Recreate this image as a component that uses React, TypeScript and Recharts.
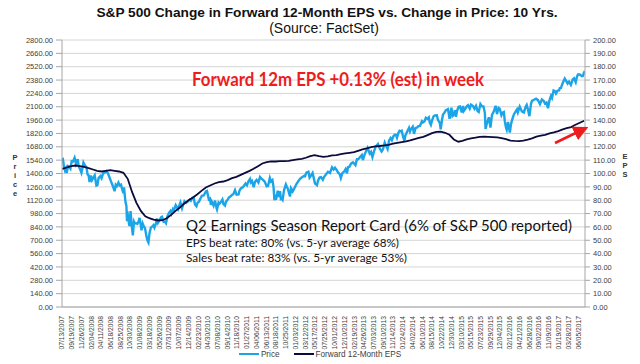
import { LineChart, Line, XAxis, YAxis, CartesianGrid, Legend } from 'recharts';

// x-axis labels as printed on the chart
const tickLabels = [
  '07/13/2007', '09/19/2007', '11/26/2007', '02/04/2008', '04/11/2008', '06/18/2008', '08/25/2008',
  '10/30/2008', '01/08/2009', '03/18/2009', '05/26/2009', '07/31/2009', '10/07/2009', '12/14/2009',
  '02/23/2010', '04/30/2010', '07/08/2010', '09/14/2010', '11/18/2010', '01/27/2011', '04/06/2011',
  '06/13/2011', '08/18/2011', '10/25/2011', '01/03/2012', '03/12/2012', '05/17/2012', '07/25/2012',
  '10/01/2012', '12/10/2012', '02/19/2013', '04/26/2013', '07/03/2013', '09/10/2013', '11/14/2013',
  '01/24/2014', '04/02/2014', '06/10/2014', '08/15/2014', '10/22/2014', '12/30/2014', '03/10/2015',
  '05/15/2015', '07/23/2015', '09/29/2015', '12/04/2015', '02/12/2016', '04/21/2016', '06/28/2016',
  '09/02/2016', '11/09/2016', '01/19/2017', '03/28/2017', '06/05/2017',
];

const leftTicks = [0, 140, 280, 420, 560, 700, 840, 980, 1120, 1260, 1400, 1540, 1680, 1820, 1960, 2100, 2240, 2380, 2520, 2660, 2800];
const rightTicks = [0, 10, 20, 30, 40, 50, 60, 70, 80, 90, 100, 110, 120, 130, 140, 150, 160, 170, 180, 190, 200];

// S&P 500 price, [MM-DD, level] per year
const sp2007: [string, number][] = [
  ['07-13', 1552], ['07-19', 1553], ['07-26', 1482], ['08-03', 1433], ['08-09', 1453], ['08-15', 1406],
  ['08-24', 1479], ['08-31', 1474], ['09-10', 1451], ['09-19', 1529], ['09-28', 1527], ['10-09', 1565],
  ['10-19', 1501], ['10-31', 1549], ['11-07', 1475], ['11-15', 1451], ['11-26', 1407], ['12-04', 1462],
  ['12-10', 1515], ['12-21', 1484], ['12-31', 1468],
];
const sp2008: [string, number][] = [
  ['01-08', 1390], ['01-15', 1380], ['01-22', 1310], ['01-31', 1378], ['02-08', 1331], ['02-15', 1349],
  ['02-27', 1381], ['03-10', 1273], ['03-17', 1277], ['03-25', 1352], ['04-07', 1373], ['04-15', 1351],
  ['04-25', 1397], ['05-05', 1408], ['05-19', 1426], ['05-30', 1400], ['06-09', 1361], ['06-20', 1318],
  ['06-30', 1280], ['07-15', 1214], ['07-23', 1282], ['07-31', 1267], ['08-11', 1305], ['08-20', 1275],
  ['08-29', 1283], ['09-05', 1242], ['09-15', 1193], ['09-19', 1255], ['09-29', 1106], ['10-06', 1057],
  ['10-10', 899], ['10-13', 1003], ['10-17', 940], ['10-27', 848], ['11-04', 1006], ['11-12', 853],
  ['11-20', 752], ['11-28', 896], ['12-05', 876], ['12-12', 879], ['12-22', 871], ['12-31', 903],
];
const sp2009: [string, number][] = [
  ['01-06', 935], ['01-13', 871], ['01-20', 805], ['01-28', 874], ['02-05', 845], ['02-13', 827],
  ['02-23', 743], ['03-02', 700], ['03-09', 677], ['03-17', 778], ['03-26', 832], ['04-03', 842],
  ['04-13', 858], ['04-20', 832], ['04-30', 873], ['05-08', 929], ['05-15', 883], ['05-26', 910],
  ['06-05', 940], ['06-12', 946], ['06-23', 895], ['07-02', 896], ['07-10', 879], ['07-20', 951],
  ['07-31', 987], ['08-10', 1007], ['08-17', 979], ['08-28', 1029], ['09-04', 1016], ['09-16', 1068],
  ['09-25', 1044], ['10-02', 1025], ['10-13', 1073], ['10-19', 1097], ['10-30', 1036], ['11-06', 1069],
  ['11-16', 1109], ['11-27', 1091], ['12-07', 1103], ['12-14', 1114], ['12-24', 1127], ['12-31', 1115],
];
const sp2010: [string, number][] = [
  ['01-11', 1146], ['01-19', 1150], ['01-29', 1074], ['02-08', 1056], ['02-16', 1094], ['02-26', 1104],
  ['03-08', 1138], ['03-18', 1166], ['03-31', 1169], ['04-09', 1194], ['04-15', 1211], ['04-23', 1217],
  ['05-06', 1128], ['05-14', 1136], ['05-20', 1071], ['05-27', 1103], ['06-08', 1062], ['06-18', 1117],
  ['06-30', 1031], ['07-02', 1022], ['07-13', 1095], ['07-20', 1083], ['07-30', 1102], ['08-09', 1127],
  ['08-16', 1080], ['08-27', 1065], ['09-03', 1105], ['09-13', 1121], ['09-24', 1149], ['10-05', 1160],
  ['10-15', 1176], ['10-25', 1185], ['11-05', 1225], ['11-16', 1178], ['11-30', 1180], ['12-07', 1223],
  ['12-16', 1243], ['12-31', 1258],
];
const sp2011: [string, number][] = [
  ['01-07', 1271], ['01-18', 1295], ['01-28', 1276], ['02-07', 1319], ['02-18', 1343], ['02-24', 1306],
  ['03-04', 1321], ['03-16', 1256], ['03-25', 1313], ['04-05', 1332], ['04-18', 1305], ['04-29', 1364],
  ['05-09', 1346], ['05-20', 1333], ['06-01', 1315], ['06-15', 1265], ['06-24', 1268], ['07-07', 1353],
  ['07-15', 1316], ['07-25', 1331], ['08-02', 1254], ['08-08', 1119], ['08-12', 1179], ['08-19', 1124],
  ['08-31', 1219], ['09-09', 1154], ['09-16', 1216], ['09-22', 1130], ['09-30', 1131], ['10-04', 1123],
  ['10-14', 1224], ['10-27', 1285], ['11-03', 1261], ['11-10', 1239], ['11-25', 1159], ['12-02', 1244],
  ['12-14', 1212], ['12-30', 1258],
];
const sp2012: [string, number][] = [
  ['01-10', 1292], ['01-20', 1315], ['02-03', 1345], ['02-17', 1361], ['03-01', 1374], ['03-09', 1371],
  ['03-19', 1409], ['04-02', 1419], ['04-10', 1358], ['04-20', 1379], ['05-01', 1406], ['05-09', 1354],
  ['05-18', 1295], ['06-01', 1278], ['06-08', 1325], ['06-19', 1357], ['06-29', 1362], ['07-12', 1334],
  ['07-20', 1362], ['08-03', 1391], ['08-17', 1418], ['08-31', 1406], ['09-14', 1465], ['09-25', 1441],
  ['10-05', 1460], ['10-15', 1440], ['10-26', 1411], ['11-07', 1394], ['11-15', 1353], ['11-26', 1406],
  ['12-07', 1418], ['12-18', 1446], ['12-28', 1402],
];
const sp2013: [string, number][] = [
  ['01-04', 1466], ['01-14', 1471], ['01-25', 1503], ['02-08', 1518], ['02-25', 1488], ['03-08', 1551],
  ['03-18', 1552], ['03-28', 1569], ['04-11', 1593], ['04-18', 1541], ['04-30', 1598], ['05-10', 1633],
  ['05-21', 1669], ['06-05', 1609], ['06-14', 1626], ['06-24', 1573], ['07-05', 1632], ['07-17', 1681],
  ['08-02', 1709], ['08-15', 1661], ['08-27', 1631], ['09-06', 1655], ['09-18', 1725], ['09-30', 1682],
  ['10-08', 1656], ['10-18', 1745], ['10-29', 1771], ['11-07', 1748], ['11-18', 1791], ['11-27', 1807],
  ['12-06', 1805], ['12-13', 1775], ['12-23', 1827], ['12-31', 1848],
];
const sp2014: [string, number][] = [
  ['01-10', 1842], ['01-15', 1848], ['01-24', 1790], ['02-03', 1742], ['02-10', 1799], ['02-21', 1836],
  ['03-07', 1878], ['03-14', 1841], ['03-21', 1866], ['04-02', 1891], ['04-11', 1816], ['04-22', 1879],
  ['05-02', 1881], ['05-12', 1897], ['05-23', 1900], ['06-06', 1949], ['06-13', 1937], ['06-24', 1949],
  ['07-03', 1985], ['07-15', 1973], ['07-24', 1988], ['07-31', 1931], ['08-07', 1910], ['08-15', 1955],
  ['08-26', 2000], ['09-05', 2008], ['09-18', 2011], ['09-25', 1965], ['10-02', 1946], ['10-09', 1928],
  ['10-15', 1862], ['10-24', 1964], ['10-31', 2018], ['11-10', 2038], ['11-21', 2064], ['12-05', 2075],
  ['12-16', 1973], ['12-29', 2091],
];
const sp2015: [string, number][] = [
  ['01-06', 2003], ['01-16', 2019], ['01-22', 2063], ['01-30', 1995], ['02-06', 2055], ['02-17', 2100],
  ['02-27', 2104], ['03-11', 2040], ['03-20', 2108], ['03-26', 2057], ['04-06', 2081], ['04-15', 2106],
  ['04-24', 2117], ['05-06', 2081], ['05-15', 2122], ['05-29', 2107], ['06-08', 2080], ['06-19', 2110],
  ['06-29', 2058], ['07-08', 2046], ['07-20', 2129], ['07-31', 2104], ['08-10', 2104], ['08-20', 2036],
  ['08-25', 1868], ['09-01', 1914], ['09-11', 1961], ['09-17', 1990], ['09-28', 1881], ['10-09', 2015],
  ['10-22', 2052], ['11-03', 2110], ['11-13', 2023], ['11-24', 2089], ['12-02', 2080], ['12-14', 2012],
  ['12-22', 2038], ['12-31', 2044],
];
const sp2016: [string, number][] = [
  ['01-07', 1944], ['01-15', 1880], ['01-20', 1859], ['01-29', 1940], ['02-05', 1880], ['02-11', 1829],
  ['02-19', 1918], ['03-01', 1978], ['03-11', 2022], ['03-22', 2049], ['04-01', 2073], ['04-07', 2041],
  ['04-20', 2102], ['05-05', 2051], ['05-19', 2040], ['05-31', 2097], ['06-08', 2119], ['06-16', 2077],
  ['06-27', 2001], ['07-08', 2130], ['07-15', 2162], ['07-29', 2174], ['08-12', 2184], ['08-26', 2169],
  ['09-09', 2128], ['09-22', 2177], ['10-05', 2160], ['10-14', 2133], ['10-25', 2143], ['11-04', 2085],
  ['11-14', 2164], ['11-25', 2213], ['12-02', 2192], ['12-13', 2271], ['12-23', 2264], ['12-30', 2239],
];
const sp2017: [string, number][] = [
  ['01-10', 2269], ['01-20', 2271], ['01-26', 2296], ['02-03', 2297], ['02-15', 2350], ['03-01', 2396],
  ['03-10', 2373], ['03-21', 2344], ['03-31', 2363], ['04-13', 2329], ['04-26', 2387], ['05-05', 2399],
  ['05-17', 2357], ['05-26', 2416], ['06-02', 2439], ['06-14', 2438], ['06-29', 2420], ['07-07', 2425],
  ['07-14', 2459], ['07-20', 2473],
];
const priceYears: [number, [string, number][]][] = [
  [2007, sp2007], [2008, sp2008], [2009, sp2009], [2010, sp2010], [2011, sp2011], [2012, sp2012],
  [2013, sp2013], [2014, sp2014], [2015, sp2015], [2016, sp2016], [2017, sp2017],
];

// forward 12-month EPS, monthly (mid-month), first month given per year
const eps2007 = [103.5, 104.5, 105.5, 106, 105.5, 105];
const eps2008 = [104, 103, 102, 101.5, 102, 102.5, 102, 101.5, 100.5, 96, 86, 78];
const eps2009 = [72, 68, 66.5, 65.5, 64.8, 65, 66.5, 69, 72, 74.5, 77.5, 80];
const eps2010 = [82, 84.5, 87, 89.5, 91, 92.5, 93.5, 94, 95, 96.5, 97.5, 99];
const eps2011 = [100.5, 102, 103.5, 105.5, 107.5, 108.5, 109, 109, 109.2, 109.3, 109.5, 110];
const eps2012 = [110.5, 111, 111.8, 113, 113.8, 113, 112.4, 112.8, 113.5, 113.8, 114.5, 115];
const eps2013 = [115.5, 116, 117, 118, 118.8, 119.8, 120.3, 120.6, 121, 121.5, 122.3, 123];
const eps2014 = [123.5, 124, 124.8, 125.8, 126.6, 127.5, 128.8, 130.2, 131.2, 131.3, 130.5, 129];
const eps2015 = [125.5, 123.8, 124.5, 125.5, 126.3, 126.8, 127.4, 127.6, 127.5, 127.3, 127, 126.5];
const eps2016 = [125.8, 124.6, 124.4, 124.3, 124.6, 125.3, 126.3, 127.6, 128.3, 129, 130, 130.8];
const eps2017 = [131.8, 133, 134, 134.8, 136.5, 138, 139.5];
const epsYears: [number, number, number[]][] = [
  [2007, 7, eps2007], [2008, 1, eps2008], [2009, 1, eps2009], [2010, 1, eps2010], [2011, 1, eps2011],
  [2012, 1, eps2012], [2013, 1, eps2013], [2014, 1, eps2014], [2015, 1, eps2015], [2016, 1, eps2016],
  [2017, 1, eps2017],
];

const PRICE_COLOR = '#1ba5e8';
const EPS_COLOR = '#0b0b3d';
const AXIS_FONT = '"Liberation Sans", Arial, sans-serif';
const NOTE_FONT = 'Lato, "Open Sans", sans-serif';

const dayNum = (y: number, m: number, d: number) => Date.UTC(y, m - 1, d) / 86400000;

const priceData = priceYears.flatMap(([year, rows]) =>
  rows.map(([md, v]) => {
    const [m, d] = md.split('-').map(Number);
    return { t: dayNum(year, m, d), v };
  })
);
const epsData = epsYears.flatMap(([year, m0, vals]) => vals.map((v, i) => ({ t: dayNum(year, m0 + i, 15), v })));

const tickNums = tickLabels.map((s) => {
  const [m, d, y] = s.split('/').map(Number);
  return dayNum(y, m, d);
});
const labelByNum = new Map(tickNums.map((n, i) => [n, tickLabels[i]]));
const xDomain = [dayNum(2007, 7, 13), dayNum(2017, 7, 21)];

const DateTick = (props: any) => {
  const { x, y, payload } = props;
  return (
    <g transform={`translate(${x},${y})`}>
      <text transform="rotate(-90)" x={0} y={0} dy="0.35em" textAnchor="end" fontSize={6.7} fill="#404040" fontFamily={AXIS_FONT}>
        {labelByNum.get(payload.value)}
      </text>
    </g>
  );
};

const LegendContent = () => (
  <div style={{ display: 'flex', justifyContent: 'center', alignItems: 'center', fontFamily: AXIS_FONT, fontSize: 8.2, color: '#404040', height: 12 }}>
    <span style={{ display: 'flex', alignItems: 'center', marginRight: 14 }}>
      <span style={{ width: 20, height: 2, background: PRICE_COLOR, marginRight: 2 }} />
      Price
    </span>
    <span style={{ display: 'flex', alignItems: 'center' }}>
      <span style={{ width: 20, height: 2, background: EPS_COLOR, marginRight: 2 }} />
      Forward 12-Month EPS
    </span>
  </div>
);

const StackedLetters = ({ x, y, text }: { x: number; y: number; text: string }) => (
  <text x={x} y={y} fontSize={7.5} fontWeight="bold" fill="#333" fontFamily={AXIS_FONT} textAnchor="middle">
    {text.split('').map((ch, i) => (
      <tspan key={i} x={x} dy={i === 0 ? 0 : 9}>{ch}</tspan>
    ))}
  </text>
);

export default function App() {
  return (
    <div style={{ position: 'relative', width: 640, height: 364, background: '#fff' }}>
      <style>{'body{margin:0}'}</style>
      <LineChart width={640} height={364} margin={{ top: 40, right: 0, bottom: 4, left: 0 }}>
        <CartesianGrid yAxisId="left" vertical={false} stroke="#d4d4d4" />
        <XAxis
          dataKey="t"
          type="number"
          domain={xDomain}
          ticks={tickNums}
          interval={0}
          tick={<DateTick />}
          tickLine={false}
          tickMargin={3}
          height={41}
          stroke="#a6a6a6"
          allowDataOverflow
        />
        <YAxis
          yAxisId="left"
          domain={[0, 2800]}
          ticks={leftTicks}
          interval={0}
          width={62}
          tickSize={6}
          tickMargin={3}
          tickFormatter={(v: number) => v.toFixed(2)}
          tick={{ fontSize: 7.5, fill: '#404040', fontFamily: AXIS_FONT }}
          stroke="#a6a6a6"
        />
        <YAxis
          yAxisId="right"
          orientation="right"
          domain={[0, 200]}
          ticks={rightTicks}
          interval={0}
          width={55}
          tickSize={5}
          tickMargin={3}
          tickFormatter={(v: number) => v.toFixed(2)}
          tick={{ fontSize: 7.5, fill: '#404040', fontFamily: AXIS_FONT }}
          stroke="#a6a6a6"
        />
        <Legend verticalAlign="bottom" height={12} content={<LegendContent />} />
        <Line
          yAxisId="left"
          data={priceData}
          dataKey="v"
          name="Price"
          stroke={PRICE_COLOR}
          strokeWidth={2.4}
          dot={false}
          isAnimationActive={false}
        />
        <Line
          yAxisId="right"
          data={epsData}
          dataKey="v"
          name="Forward 12-Month EPS"
          stroke={EPS_COLOR}
          strokeWidth={1.8}
          dot={false}
          isAnimationActive={false}
        />
      </LineChart>

      {/* title, axis titles and the pasted-on notes */}
      <svg width={640} height={364} style={{ position: 'absolute', left: 0, top: 0, pointerEvents: 'none' }}>
        <defs>
          <marker id="redHead" markerWidth="6" markerHeight="6" refX="5" refY="3" orient="auto" markerUnits="strokeWidth">
            <path d="M0,0 L6,3 L0,6 z" fill="#ee1c1c" />
          </marker>
        </defs>
        <text x={327} y={17} textAnchor="middle" fontSize={13.7} fontWeight="bold" fontFamily={AXIS_FONT} fill="#111">
          S&amp;P 500 Change in Forward 12-Month EPS vs. Change in Price: 10 Yrs.
        </text>
        <text x={324} y={33} textAnchor="middle" fontSize={14} fontFamily={AXIS_FONT} fill="#111">
          (Source: FactSet)
        </text>
        <StackedLetters x={15} y={160} text="Price" />
        <StackedLetters x={625} y={159} text="EPS" />

        <text x={192} y={86} fontSize={19} fontWeight="bold" fontFamily={NOTE_FONT} fill="#ee1c1c" textLength={292} lengthAdjust="spacingAndGlyphs">
          Forward 12m EPS +0.13% (est) in week
        </text>
        <text x={186} y={231} fontSize={15} fontFamily={NOTE_FONT} fill="#111" textLength={386} lengthAdjust="spacingAndGlyphs">
          Q2 Earnings Season Report Card (6% of S&amp;P 500 reported)
        </text>
        <text x={186} y={247} fontSize={11} fontFamily={NOTE_FONT} fill="#111" textLength={213} lengthAdjust="spacingAndGlyphs">
          EPS beat rate: 80% (vs. 5-yr average 68%)
        </text>
        <text x={186} y={262} fontSize={11} fontFamily={NOTE_FONT} fill="#111" textLength={221} lengthAdjust="spacingAndGlyphs">
          Sales beat rate: 83% (vs. 5-yr average 53%)
        </text>
        <line x1={555} y1={143} x2={586} y2={128} stroke="#ee1c1c" strokeWidth={2.5} markerEnd="url(#redHead)" />
      </svg>
    </div>
  );
}
